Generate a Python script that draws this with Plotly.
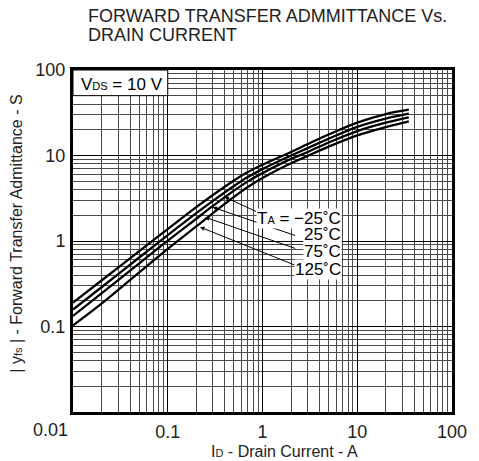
import plotly.graph_objects as go

# ---- data ----
drain_current = [0.01, 0.02, 0.05, 0.1, 0.2, 0.3, 0.5, 0.7, 1, 2, 3, 5, 10, 20, 35]
yfs_m25 = [0.19, 0.345, 0.76, 1.38, 2.49, 3.45, 5.1, 6.4, 7.8, 11.0, 13.6, 17.6, 24.2, 30.5, 34.3]
yfs_25 = [0.158, 0.288, 0.641, 1.17, 2.12, 2.95, 4.4, 5.6, 6.93, 9.98, 12.2, 15.7, 21.6, 27.0, 30.8]
yfs_75 = [0.133, 0.244, 0.546, 1.01, 1.82, 2.57, 3.88, 4.98, 6.22, 9.12, 11.0, 14.2, 19.3, 24.2, 27.9]
yfs_125 = [0.103, 0.185, 0.43, 0.81, 1.48, 2.12, 3.28, 4.28, 5.45, 8.1, 9.9, 12.7, 17.2, 21.5, 25.1]
series = [yfs_m25, yfs_25, yfs_75, yfs_125]

x_tick_vals = [0.1, 1, 10, 100]
x_tick_text = ["0.1", "1", "10", "100"]
y_tick_vals = [0.1, 1, 10, 100]
y_tick_text = ["0.1", "1", "10", "100"]

SUB = '<span style="font-size:{}px">{}</span>'
temp_labels = ["T" + SUB.format(11, "A") + " = \u221225\u02daC", "25\u02daC", "75\u02daC", "125\u02daC"]
# arrow tips and tails (log10 units of the axes)
arrow_tip_x = [-0.402, -0.526, -0.608, -0.660]
arrow_tip_y = [0.517, 0.395, 0.279, 0.163]
arrow_tail_x = [-0.052, 0.361, 0.361, 0.361]
arrow_tail_y = [0.337, 0.058, -0.093, -0.291]
label_paper_y = [0.567, 0.518, 0.468, 0.418]

FONT = "Liberation Sans, Arial, sans-serif"

fig = go.Figure()
for ys in series:
    fig.add_trace(go.Scatter(x=drain_current, y=ys, mode="lines",
                             line=dict(color="black", width=2.3, shape="spline", smoothing=1.0),
                             showlegend=False, hoverinfo="skip"))

axis_common = dict(
    type="log", range=[-2, 2],
    showgrid=True, gridcolor="black", gridwidth=1,
    minor=dict(dtick="D1", showgrid=True, gridcolor="#4a4a4a", gridwidth=1, ticks=""),
    showline=True, mirror=True, linecolor="black", linewidth=3,
    ticks="outside", tickcolor="rgba(0,0,0,0)",
    tickfont=dict(family=FONT, size=18, color="#222"),
    zeroline=False,
)
fig.update_xaxes(**axis_common, tickmode="array", tickvals=x_tick_vals, ticktext=x_tick_text, ticklen=1)
fig.update_yaxes(**axis_common, tickmode="array", tickvals=y_tick_vals, ticktext=y_tick_text, ticklen=1)

ann = []
ann.append(dict(text="FORWARD TRANSFER ADMMITTANCE Vs.", xref="paper", yref="paper",
                x=0.034, y=1.157, xanchor="left", yanchor="middle", showarrow=False,
                font=dict(family=FONT, size=18, color="#222")))
ann.append(dict(text="DRAIN CURRENT", xref="paper", yref="paper",
                x=0.034, y=1.102, xanchor="left", yanchor="middle", showarrow=False,
                font=dict(family=FONT, size=18, color="#222")))
ann.append(dict(text="V" + SUB.format(11, "DS") + " = 10 V", xref="paper", yref="paper",
                x=0.016, y=0.959, xanchor="left", yanchor="middle", showarrow=False,
                font=dict(family=FONT, size=17, color="black")))
ann.append(dict(text="0.01", xref="paper", yref="paper", x=-0.059, y=-0.053,
                xanchor="center", yanchor="middle", showarrow=False,
                font=dict(family=FONT, size=18, color="#222")))
ann.append(dict(text="I" + SUB.format(11, "D") + " - Drain Current - A", xref="paper", yref="paper",
                x=0.559, y=-0.116, xanchor="center", yanchor="middle", showarrow=False,
                font=dict(family=FONT, size=16, color="#222")))
ann.append(dict(text="| y" + SUB.format(11, "fs") + " | - Forward Transfer Admittance - S", xref="paper", yref="paper",
                x=-0.149, y=0.52, xanchor="center", yanchor="middle", textangle=-90, showarrow=False,
                font=dict(family=FONT, size=16, color="#222")))
for tx, ty, ax_, ay_ in zip(arrow_tip_x, arrow_tip_y, arrow_tail_x, arrow_tail_y):
    ann.append(dict(text="", x=tx, y=ty, ax=ax_, ay=ay_, xref="x", yref="y", axref="x", ayref="y",
                    showarrow=True, arrowhead=2, arrowsize=0.9, arrowwidth=1, arrowcolor="black",
                    standoff=0, startstandoff=0))
for lab, ly in zip(temp_labels, label_paper_y):
    ann.append(dict(text=lab, xref="paper", yref="paper", x=0.711, y=ly, xanchor="right", yanchor="middle",
                    showarrow=False, bgcolor="white", borderpad=0,
                    font=dict(family=FONT, size=17, color="black")))

fig.update_layout(
    width=479, height=461, autosize=False,
    margin=dict(l=73, r=18, t=70, b=49),
    paper_bgcolor="white", plot_bgcolor="white",
    annotations=ann,
    shapes=[dict(type="rect", xref="paper", yref="paper", x0=0, x1=0.25, y0=0.925, y1=1,
                 fillcolor="white", line=dict(color="black", width=1), layer="above")],
)
fig.write_html("out.html", config={"displayModeBar": False, "staticPlot": True},
               post_script="document.body.style.margin='0px';document.body.style.overflow='hidden';")
